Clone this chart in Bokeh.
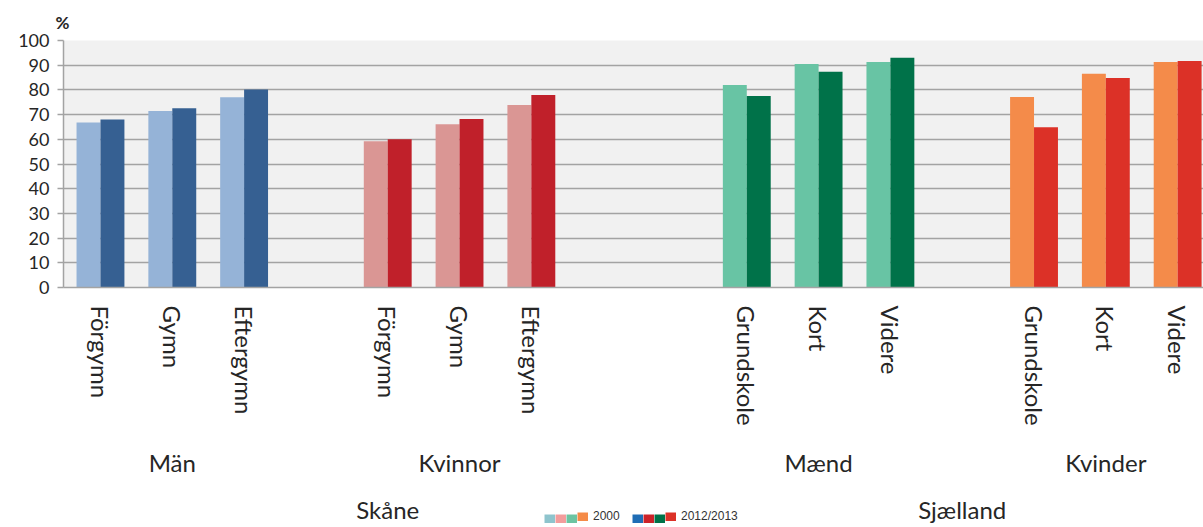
from bokeh.plotting import figure
from bokeh.layouts import column
from bokeh.models import ColumnDataSource, FixedTicker, LinearAxis, Legend, LegendItem, Range1d
from bokeh.core.properties import value
from bokeh.embed import file_html
from bokeh.resources import INLINE

# ---------------- data ----------------
regions = ["Skåne", "Sjælland"]
groups = ["Män", "Kvinnor", "Mænd", "Kvinder"]
group_region = ["Skåne", "Skåne", "Sjælland", "Sjælland"]
cats_se = ["Förgymn", "Gymn", "Eftergymn"]
cats_dk = ["Grundskole", "Kort", "Videre"]

man_se_2000 = [66.8, 71.5, 77.0]
man_se_2012 = [68.0, 72.6, 80.2]
kvinnor_se_2000 = [59.2, 66.1, 73.9]
kvinnor_se_2012 = [60.0, 68.2, 77.9]
maend_dk_2000 = [82.0, 90.5, 91.3]
maend_dk_2012 = [77.5, 87.3, 93.0]
kvinder_dk_2000 = [77.1, 86.5, 91.3]
kvinder_dk_2012 = [64.9, 84.8, 91.7]

year_labels = ["2000", "2012/2013"]
y_ticks = list(range(0, 101, 10))

group_cats = [cats_se, cats_se, cats_dk, cats_dk]
group_2000 = [man_se_2000, kvinnor_se_2000, maend_dk_2000, kvinder_dk_2000]
group_2012 = [man_se_2012, kvinnor_se_2012, maend_dk_2012, kvinder_dk_2012]

# ---------------- style ----------------
colors_2000 = ["#95b3d7", "#da9694", "#68c4a4", "#f48b4a"]
colors_2012 = ["#366092", "#c0202a", "#007249", "#dc3127"]
legend_2000 = ["#8ec4cd", "#f39c9c", "#6cc4a2", "#f58b48"]
legend_2012 = ["#1f6db5", "#cc2229", "#007249", "#dc3127"]
gaps_before = [0, 1, 2, 1]      # empty slots before each group
FONT = "Lato"
TXT = "#262626"
GRID = "#a3a3a3"
bar_w = 1 / 3

# ---------------- slot layout ----------------
group_slots = []
slot = 0
for cats, gap in zip(group_cats, gaps_before):
    slot += gap
    group_slots.append([slot + i for i in range(len(cats))])
    slot += len(cats)

region_centers = []
for r in regions:
    idx = [i for i, g in enumerate(group_region) if g == r]
    start = group_slots[idx[0]][0]
    nxt = idx[-1] + 1
    end = group_slots[nxt][0] - 1 if nxt < len(groups) else group_slots[idx[-1]][-1]
    region_centers.append((start + end) / 2)

x_range = Range1d(-0.515, 15.36)

p = figure(width=1203, height=480, x_range=x_range, y_range=Range1d(0, 100),
           output_backend="svg", toolbar_location=None, x_axis_location=None,
           min_border_left=63, min_border_right=0, min_border_top=40, min_border_bottom=193,
           background_fill_color="#f1f1f1", border_fill_color="white", outline_line_color=None)

for slots, v0, v1, c0, c1 in zip(group_slots, group_2000, group_2012, colors_2000, colors_2012):
    s0 = ColumnDataSource(dict(x=[s - bar_w / 2 for s in slots], top=v0))
    s1 = ColumnDataSource(dict(x=[s + bar_w / 2 for s in slots], top=v1))
    p.vbar(x="x", top="top", width=bar_w, bottom=0, source=s0, fill_color=c0, line_color=None)
    p.vbar(x="x", top="top", width=bar_w, bottom=0, source=s1, fill_color=c1, line_color=None)

# y axis & grid
p.yaxis.ticker = FixedTicker(ticks=y_ticks)
p.yaxis.major_tick_out = 6
p.yaxis.major_tick_in = 0
p.yaxis.minor_tick_out = 0
p.yaxis.minor_tick_in = 0
p.yaxis.axis_line_color = GRID
p.yaxis.axis_line_width = 1.5
p.yaxis.major_tick_line_color = GRID
p.yaxis.major_tick_line_width = 1.5
p.yaxis.major_label_text_font = FONT
p.yaxis.major_label_text_font_size = "18px"
p.yaxis.major_label_text_color = TXT
p.yaxis.major_label_standoff = 8
p.ygrid.grid_line_color = GRID
p.ygrid.grid_line_width = 1.5
p.xgrid.visible = False

p.title.text = "%"
p.title.align = "left"
p.title.offset = -8
p.title.standoff = 15
p.title.text_font = FONT
p.title.text_font_size = "17px"
p.title.text_font_style = "bold"
p.title.text_color = TXT

# category axis
all_slots = [s for sl in group_slots for s in sl]
all_names = [c for cats in group_cats for c in cats]
cat_axis = LinearAxis(ticker=FixedTicker(ticks=all_slots),
                      major_label_overrides={s: n for s, n in zip(all_slots, all_names)},
                      major_label_orientation="vertical", major_label_standoff=18,
                      major_tick_out=0, major_tick_in=0, minor_tick_out=0, minor_tick_in=0,
                      axis_line_color=GRID, axis_line_width=1.5,
                      major_label_text_font=FONT, major_label_text_font_size="24px",
                      major_label_text_color=TXT)
p.add_layout(cat_axis, "below")

group_centers = [sum(sl) / len(sl) for sl in group_slots]
group_axis = LinearAxis(ticker=FixedTicker(ticks=group_centers),
                        major_label_overrides={s: n for s, n in zip(group_centers, groups)},
                        major_label_standoff=19,
                        major_tick_out=0, major_tick_in=0, minor_tick_out=0, minor_tick_in=0,
                        axis_line_color=None,
                        major_label_text_font=FONT, major_label_text_font_size="24px",
                        major_label_text_color=TXT)
p.add_layout(group_axis, "below")

# ---------------- bottom strip: region labels + legend ----------------
p2 = figure(width=1203, height=47, x_range=x_range, y_range=Range1d(0, 1),
            output_backend="svg", toolbar_location=None,
            x_axis_location=None, y_axis_location=None,
            min_border_left=63, min_border_right=0, min_border_top=0, min_border_bottom=0,
            background_fill_color="white", border_fill_color="white", outline_line_color=None)
p2.xgrid.visible = False
p2.ygrid.visible = False
p2.text(x=region_centers, y=[0.385] * len(regions), text=regions,
        text_align="center", text_baseline="alphabetic",
        text_font=value(FONT), text_font_size="24px", text_color=TXT)

# legend-only renderers (a single NaN row, so nothing is drawn in the strip)
nan = float("nan")
leg_rends_2000 = [p2.line(x=[nan], y=[nan], line_width=9, line_cap="butt", line_color=c)
                  for c in legend_2000]
leg_rends_2012 = [p2.line(x=[nan], y=[nan], line_width=9, line_cap="butt", line_color=c)
                  for c in legend_2012]


def add_legend(rends, label, x, y):
    common = dict(orientation="horizontal", spacing=0, padding=0, margin=0,
                  glyph_width=11, glyph_height=9, label_height=9, label_width=0,
                  border_line_color=None, background_fill_alpha=0,
                  label_text_font="Liberation Sans", label_text_font_size="12px",
                  label_text_color="#333333")
    l1 = Legend(items=[LegendItem(label=value(""), renderers=[r]) for r in rends[:-1]],
                location=(x, y), label_standoff=0, **common)
    l2 = Legend(items=[LegendItem(label=label, renderers=[rends[-1]])],
                location=(x + 11 * (len(rends) - 1), y), label_standoff=5, **common)
    p2.add_layout(l1, "center")
    p2.add_layout(l2, "center")


add_legend(leg_rends_2000, year_labels[0], 481, 4)
add_legend(leg_rends_2012, year_labels[1], 569, 4)

layout = column(p, p2, spacing=0)
open("out.html", "w").write(file_html(layout, INLINE))
